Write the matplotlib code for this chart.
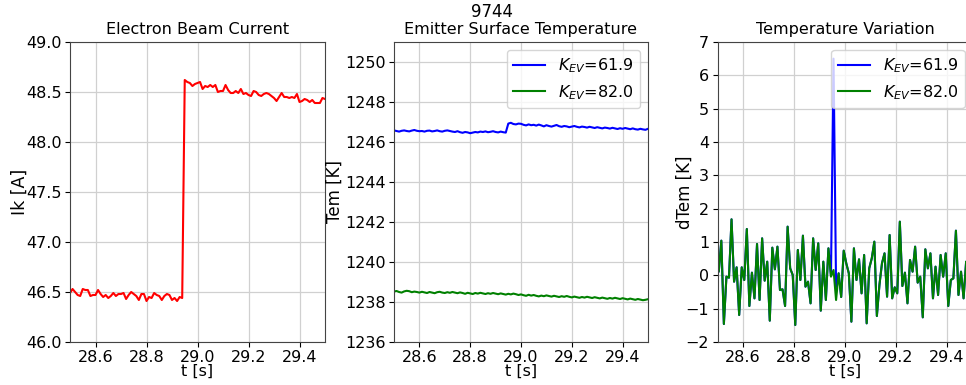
import numpy as np
import matplotlib
matplotlib.use('Agg')
import matplotlib.pyplot as plt

SHOT = '9744'
LABEL_A = r'$K_{EV}$=61.9'
LABEL_B = r'$K_{EV}$=82.0'

# time grid for Ik and Tem (s)
t_main = np.round(np.arange(28.50, 29.505, 0.01), 3)

ik = [46.49, 46.53, 46.50, 46.47, 46.46, 46.53, 46.52, 46.52, 46.46, 46.47,
      46.47, 46.52, 46.48, 46.45, 46.47, 46.44, 46.46, 46.49, 46.46, 46.48,
      46.48, 46.49, 46.43, 46.47, 46.50, 46.48, 46.46, 46.42, 46.48, 46.48,
      46.41, 46.45, 46.44, 46.49, 46.47, 46.46, 46.42, 46.46, 46.48, 46.47,
      46.42, 46.44, 46.41, 46.45, 46.44,
      48.62, 48.60, 48.59, 48.56, 48.58, 48.59, 48.60, 48.53, 48.56, 48.55,
      48.57, 48.55, 48.57, 48.50, 48.51, 48.51, 48.57, 48.52, 48.49, 48.49,
      48.51, 48.49, 48.53, 48.48, 48.49, 48.47, 48.46, 48.51, 48.50, 48.47,
      48.46, 48.48, 48.49, 48.48, 48.46, 48.44, 48.41, 48.45, 48.49, 48.45,
      48.45, 48.44, 48.45, 48.44, 48.48, 48.40, 48.41, 48.43, 48.42, 48.40,
      48.42, 48.39, 48.39, 48.39, 48.44, 48.43]

tem_619 = [1246.58, 1246.55, 1246.52, 1246.56, 1246.58, 1246.55, 1246.53, 1246.57, 1246.60, 1246.56,
           1246.54, 1246.55, 1246.52, 1246.56, 1246.57, 1246.53, 1246.55, 1246.58, 1246.54, 1246.52,
           1246.56, 1246.58, 1246.55, 1246.52, 1246.50, 1246.54, 1246.49, 1246.46, 1246.50, 1246.48,
           1246.44, 1246.47, 1246.50, 1246.48, 1246.52, 1246.50, 1246.53, 1246.49, 1246.51, 1246.54,
           1246.50, 1246.48, 1246.52, 1246.49, 1246.47,
           1246.92, 1246.96, 1246.90, 1246.88, 1246.92, 1246.91, 1246.86, 1246.83, 1246.88, 1246.84,
           1246.86, 1246.82, 1246.87, 1246.83, 1246.78, 1246.84, 1246.80, 1246.77, 1246.81, 1246.85,
           1246.79, 1246.76, 1246.80, 1246.78, 1246.74, 1246.77, 1246.80, 1246.76, 1246.73, 1246.77,
           1246.75, 1246.72, 1246.76, 1246.73, 1246.70, 1246.74, 1246.71, 1246.68, 1246.72, 1246.70,
           1246.67, 1246.71, 1246.68, 1246.65, 1246.69, 1246.66, 1246.70, 1246.67, 1246.64, 1246.68,
           1246.64, 1246.62, 1246.66, 1246.63, 1246.61, 1246.66]

tem_820 = [1238.52, 1238.55, 1238.50, 1238.47, 1238.53, 1238.56, 1238.54, 1238.49, 1238.52, 1238.50,
           1238.47, 1238.51, 1238.48, 1238.45, 1238.50, 1238.47, 1238.44, 1238.49, 1238.51, 1238.47,
           1238.45, 1238.49, 1238.46, 1238.50, 1238.47, 1238.44, 1238.48, 1238.45, 1238.41, 1238.46,
           1238.43, 1238.40, 1238.45, 1238.42, 1238.46, 1238.43, 1238.40, 1238.44, 1238.41, 1238.45,
           1238.42, 1238.39, 1238.43, 1238.40, 1238.37, 1238.41, 1238.38, 1238.42, 1238.39, 1238.35,
           1238.38, 1238.34, 1238.31, 1238.36, 1238.32, 1238.35, 1238.31, 1238.28, 1238.32, 1238.29,
           1238.33, 1238.30, 1238.27, 1238.31, 1238.28, 1238.25, 1238.29, 1238.26, 1238.30, 1238.26,
           1238.23, 1238.27, 1238.24, 1238.21, 1238.25, 1238.22, 1238.26, 1238.23, 1238.20, 1238.24,
           1238.21, 1238.18, 1238.22, 1238.19, 1238.16, 1238.20, 1238.17, 1238.21, 1238.18, 1238.15,
           1238.19, 1238.16, 1238.13, 1238.17, 1238.14, 1238.11, 1238.15, 1238.12, 1238.09, 1238.11,
           1238.14]

# time grid for dTem (s), offset by half a step
t_diff = np.round(np.arange(28.495, 29.50, 0.01), 3)

dtem_820 = [0.46, 0.11, 1.04, -1.46, -0.04, -0.07, 1.68, -0.19, 0.24, -1.19,
            0.24, -0.14, 1.39, -0.92, 0.08, -0.69, 0.94, -0.74, 1.11, -0.16,
            0.41, -1.36, 0.83, 0.18, 0.86, -0.44, -0.42, -0.92, 1.46, 0.21,
            0.01, -1.49, 0.76, -0.14, 1.19, -0.34, -0.19, -0.84, 1.11, 0.16,
            0.96, -1.06, 0.41, -0.74, 0.81, -0.04, 0.16, -0.74, 0.06, -0.65,
            0.74, 0.36, 0.06, -1.39, 0.81, -0.14, 0.48, -0.54, 0.61, -1.44,
            0.21, 0.51, 1.01, -1.22, -0.29, 0.36, 0.66, -0.64, 1.21, -0.69,
            -0.36, -0.54, 1.61, -0.32, 0.08, -0.84, 0.46, 0.11, 0.86, -0.22,
            -0.04, -1.26, 0.78, 0.21, 0.66, -0.69, 0.26, -0.59, 0.61, -0.04,
            0.66, -0.92, -0.14, -0.09, 1.34, -0.59, 0.11, -0.69, 0.41, -0.20,
            0.30]

# K_EV=61.9 follows the same trace, apart from the spike at the Ik step
dtem_619 = list(dtem_820)
dtem_619[45] = 0.0
dtem_619[46] = 6.5
dtem_619[47] = -0.35

plt.rcParams['font.family'] = 'DejaVu Sans'
plt.rcParams['font.size'] = 12

W, H = 966, 385
fig = plt.figure(figsize=(W / 100, H / 100), dpi=100)

ax_b, ax_h = (H - 342) / H, 300 / H
ax1 = fig.add_axes([70 / W, ax_b, 255 / W, ax_h])
ax2 = fig.add_axes([394 / W, ax_b, 254 / W, ax_h])
ax3 = fig.add_axes([717.5 / W, ax_b, 255 / W, ax_h])

ax1.plot(t_main, ik, color='red')
ax1.set_ylim(46.0, 49.0)
ax1.set_yticks(np.arange(46.0, 49.01, 0.5))
ax1.set_ylabel('Ik [A]', fontsize=12.5)
ax1.yaxis.set_label_coords(-0.163, 0.5)
ax1.set_title('Electron Beam Current', fontsize=11.5)

ax2.plot(t_main, tem_619, color='blue', label=LABEL_A)
ax2.plot(t_main, tem_820, color='green', label=LABEL_B)
ax2.set_ylim(1236, 1251)
ax2.set_yticks(np.arange(1236, 1251, 2))
ax2.set_ylabel('Tem [K]', fontsize=12)
ax2.yaxis.set_label_coords(-0.197, 0.5)
ax2.set_title('Emitter Surface Temperature', fontsize=11.5)
ax2.legend(loc='upper right', fontsize=11.5)

ax3.plot(t_diff, dtem_619, color='blue', label=LABEL_A)
ax3.plot(t_diff, dtem_820, color='green', label=LABEL_B)
ax3.set_ylim(-2, 7)
ax3.set_yticks(np.arange(-2, 8, 1))
ax3.set_ylabel('dTem [K]', fontsize=12)
ax3.yaxis.set_label_coords(-0.094, 0.5)
ax3.set_title('Temperature Variation', fontsize=11.5)
ax3.legend(loc='upper right', fontsize=11.5)

for ax in (ax1, ax2, ax3):
    ax.set_xlim(28.5, 29.5)
    ax.set_xticks([28.6, 28.8, 29.0, 29.2, 29.4])
    ax.set_xlabel('t [s]', fontsize=11.5, labelpad=-1)
    ax.grid(True, color='#d0d0d0', linewidth=0.9)
    ax.tick_params(labelsize=11.5, pad=2.5)
    for s in ax.spines.values():
        s.set_color('#444444')

fig.text(492 / W, 1 - 12 / H, SHOT, ha='center', va='center', fontsize=12)

fig.savefig('out.png', dpi=100)
